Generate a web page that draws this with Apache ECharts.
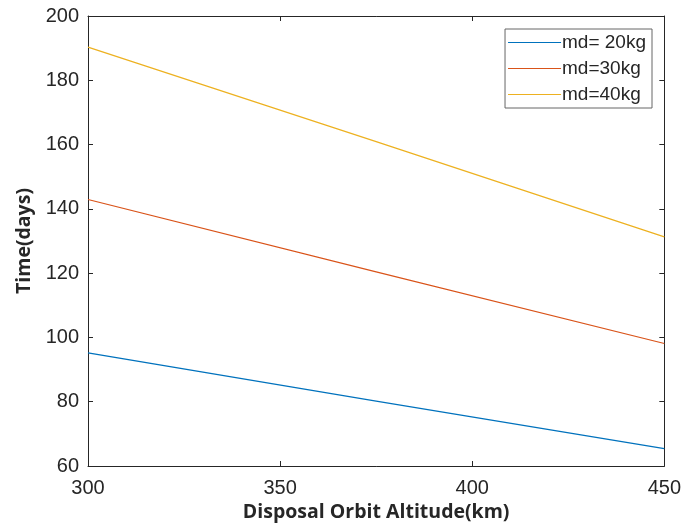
<!DOCTYPE html>
<html>
<head>
<meta charset="utf-8">
<script src="https://cdn.jsdelivr.net/npm/echarts@6/dist/echarts.min.js"></script>
<style>html,body{margin:0;padding:0;background:#fff;}#chart{width:684px;height:532px;}</style>
</head>
<body>
<div id="chart"></div>
<script>
const altitudes = [300, 375, 450];
const md20 = [95.2, 80.2, 65.4];
const md30 = [142.9, 120.4, 98.1];
const md40 = [190.3, 160.9, 131.3];
const seriesNames = ['md= 20kg', 'md=30kg', 'md=40kg'];
const xTicks = [300, 350, 400, 450];
const yTicks = [60, 80, 100, 120, 140, 160, 180, 200];

const colors = ['#0072BD', '#D95319', '#EDB120'];
const axisColor = '#262626';
const tickFont = { fontFamily: 'Liberation Sans', fontSize: 20, color: '#262626' };

function pairs(vals) { return altitudes.map((x, i) => [x, vals[i]]); }

const chart = echarts.init(document.getElementById('chart'), null, { renderer: 'canvas' });
const seriesData = [md20, md30, md40];
chart.setOption({
  animation: false,
  backgroundColor: '#fff',
  color: colors,
  grid: { left: 88, right: 18, top: 16, bottom: 66, containLabel: false },
  legend: {
    orient: 'vertical',
    right: 32, top: 29,
    data: seriesNames.map(n => ({ name: n, icon: 'rect' })),
    itemWidth: 53, itemHeight: 1.2, itemGap: 7,
    borderColor: '#666', borderWidth: 1, borderRadius: 0,
    padding: [4, 6, 4, 3],
    backgroundColor: '#fff',
    textStyle: { fontFamily: 'Liberation Sans', fontSize: 19, color: '#262626', padding: [0, 0, 0, -4] }
  },
  xAxis: [{
    type: 'value', min: 300, max: 450, interval: 50,
    name: 'Disposal Orbit Altitude(km)', nameLocation: 'middle', nameGap: 34,
    nameTextStyle: { fontFamily: 'Open Sans', fontWeight: 'bold', fontSize: 19.5, color: '#262626' },
    axisLine: { show: true, lineStyle: { color: axisColor, width: 1 } },
    axisTick: { show: true, inside: true, length: 5, lineStyle: { color: axisColor } },
    axisLabel: Object.assign({ margin: 12, formatter: v => xTicks.includes(v) ? String(v) : '' }, tickFont),
    splitLine: { show: false }
  }, {
    type: 'value', min: 300, max: 450, interval: 50, position: 'top',
    axisLine: { show: true, lineStyle: { color: axisColor, width: 1 } },
    axisTick: { show: true, inside: true, length: 5, lineStyle: { color: axisColor } },
    axisLabel: { show: false }, splitLine: { show: false }
  }],
  yAxis: [{
    type: 'value', min: 60, max: 200, interval: 20,
    name: 'Time(days)', nameLocation: 'middle', nameGap: 54,
    nameTextStyle: { fontFamily: 'Open Sans', fontWeight: 'bold', fontSize: 19.5, color: '#262626' },
    axisLine: { show: true, lineStyle: { color: axisColor, width: 1 } },
    axisTick: { show: true, inside: true, length: 5, lineStyle: { color: axisColor } },
    axisLabel: Object.assign({ margin: 9, formatter: v => yTicks.includes(v) ? String(v) : '' }, tickFont),
    splitLine: { show: false }
  }, {
    type: 'value', min: 60, max: 200, interval: 20, position: 'right',
    axisLine: { show: true, lineStyle: { color: axisColor, width: 1 } },
    axisTick: { show: true, inside: true, length: 5, lineStyle: { color: axisColor } },
    axisLabel: { show: false }, splitLine: { show: false }
  }],
  series: seriesNames.map((n, i) => ({
    name: n, type: 'line', data: pairs(seriesData[i]),
    xAxisIndex: 0, yAxisIndex: 0,
    showSymbol: false, symbol: 'none',
    lineStyle: { width: 1.2, color: colors[i] },
    itemStyle: { color: colors[i] }
  }))
});
</script>
</body>
</html>
